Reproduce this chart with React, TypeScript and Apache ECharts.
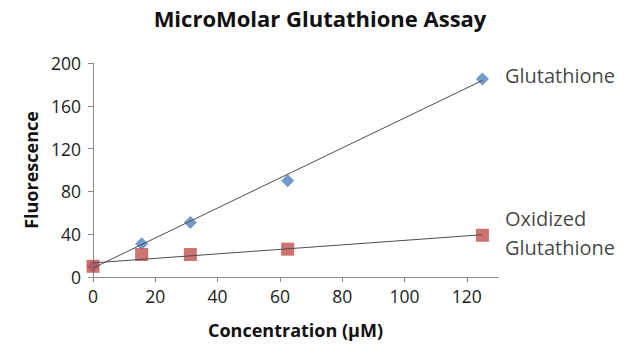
import React, { useEffect, useRef } from "react";
import * as echarts from "echarts";

const concentrations = [0, 15.625, 31.25, 62.5, 125];
const glutathione = [10, 31, 51, 90, 185];
const oxidized = [10, 21, 21, 26, 39];
const glutTrend = [[0, 8.4], [125, 183.7]];
const oxTrend = [[0, 13.2], [125, 39.5]];
const xTicks = [0, 20, 40, 60, 80, 100, 120];
const yTicks = [0, 40, 80, 120, 160, 200];

const FONT = "'Open Sans', 'Noto Sans', sans-serif";

export default function App() {
  const ref = useRef<HTMLDivElement>(null);
  useEffect(() => {
    const chart = echarts.init(ref.current!, null, { renderer: "svg" });
    const last = concentrations.length - 1;
    const gData = concentrations.map((x, i) =>
      i === last
        ? {
            value: [x, glutathione[i]],
            label: {
              show: true,
              position: "right",
              distance: 16,
              formatter: "Glutathione",
              color: "#111",
              fontSize: 20,
              fontFamily: FONT,
              offset: [0, -4],
            },
          }
        : [x, glutathione[i]]
    );
    const oData = concentrations.map((x, i) =>
      i === last
        ? {
            value: [x, oxidized[i]],
            label: {
              show: true,
              position: "right",
              distance: 16,
              formatter: "Oxidized\nGlutathione",
              color: "#111",
              fontSize: 20,
              lineHeight: 29,
              fontFamily: FONT,
              offset: [0, -2],
            },
          }
        : [x, oxidized[i]]
    );
    chart.setOption({
      animation: false,
      backgroundColor: "#fff",
      title: {
        text: "MicroMolar Glutathione Assay",
        left: "center",
        top: 2,
        textStyle: { fontFamily: FONT, fontSize: 22, fontWeight: "bold", color: "#111" },
      },
      grid: { left: 93, right: 142, top: 63, bottom: 82 },
      xAxis: {
        type: "value",
        min: 0,
        max: 130,
        interval: 20,
        name: "Concentration (µM)",
        nameLocation: "middle",
        nameGap: 44,
        nameTextStyle: { fontFamily: FONT, fontSize: 18, fontWeight: "bold", color: "#111" },
        axisLine: { show: true, lineStyle: { color: "#8c8c8c" } },
        axisTick: { show: true, customValues: xTicks, length: 5, lineStyle: { color: "#8c8c8c" } },
        axisLabel: { customValues: xTicks, fontFamily: FONT, fontSize: 17.5, color: "#222", margin: 10 },
        splitLine: { show: false },
      },
      yAxis: {
        type: "value",
        min: 0,
        max: 200,
        interval: 40,
        name: "Fluorescence",
        nameLocation: "middle",
        nameGap: 52,
        nameTextStyle: { fontFamily: FONT, fontSize: 18, fontWeight: "bold", color: "#111" },
        axisLine: { show: true, lineStyle: { color: "#8c8c8c" } },
        axisTick: { show: true, length: 5, lineStyle: { color: "#8c8c8c" } },
        axisLabel: { fontFamily: FONT, fontSize: 17.5, color: "#222", margin: 12, customValues: yTicks },
        splitLine: { show: false },
      },
      series: [
        {
          type: "scatter",
          name: "Glutathione",
          symbol: "diamond",
          symbolSize: 13,
          itemStyle: { color: "#4F81BD" },
          data: gData,
          z: 2,
        },
        {
          type: "scatter",
          name: "Oxidized Glutathione",
          symbol: "rect",
          symbolSize: 13,
          itemStyle: { color: "#C0504D" },
          data: oData,
          z: 3,
        },
        {
          type: "line",
          data: glutTrend,
          symbol: "none",
          lineStyle: { color: "#4d4d4d", width: 1 },
          z: 5,
        },
        {
          type: "line",
          data: oxTrend,
          symbol: "none",
          lineStyle: { color: "#4d4d4d", width: 1 },
          z: 5,
        },
      ],
    });
    return () => chart.dispose();
  }, []);
  return <div ref={ref} style={{ width: 640, height: 359, position: "absolute", left: 0, top: 0 }} />;
}
